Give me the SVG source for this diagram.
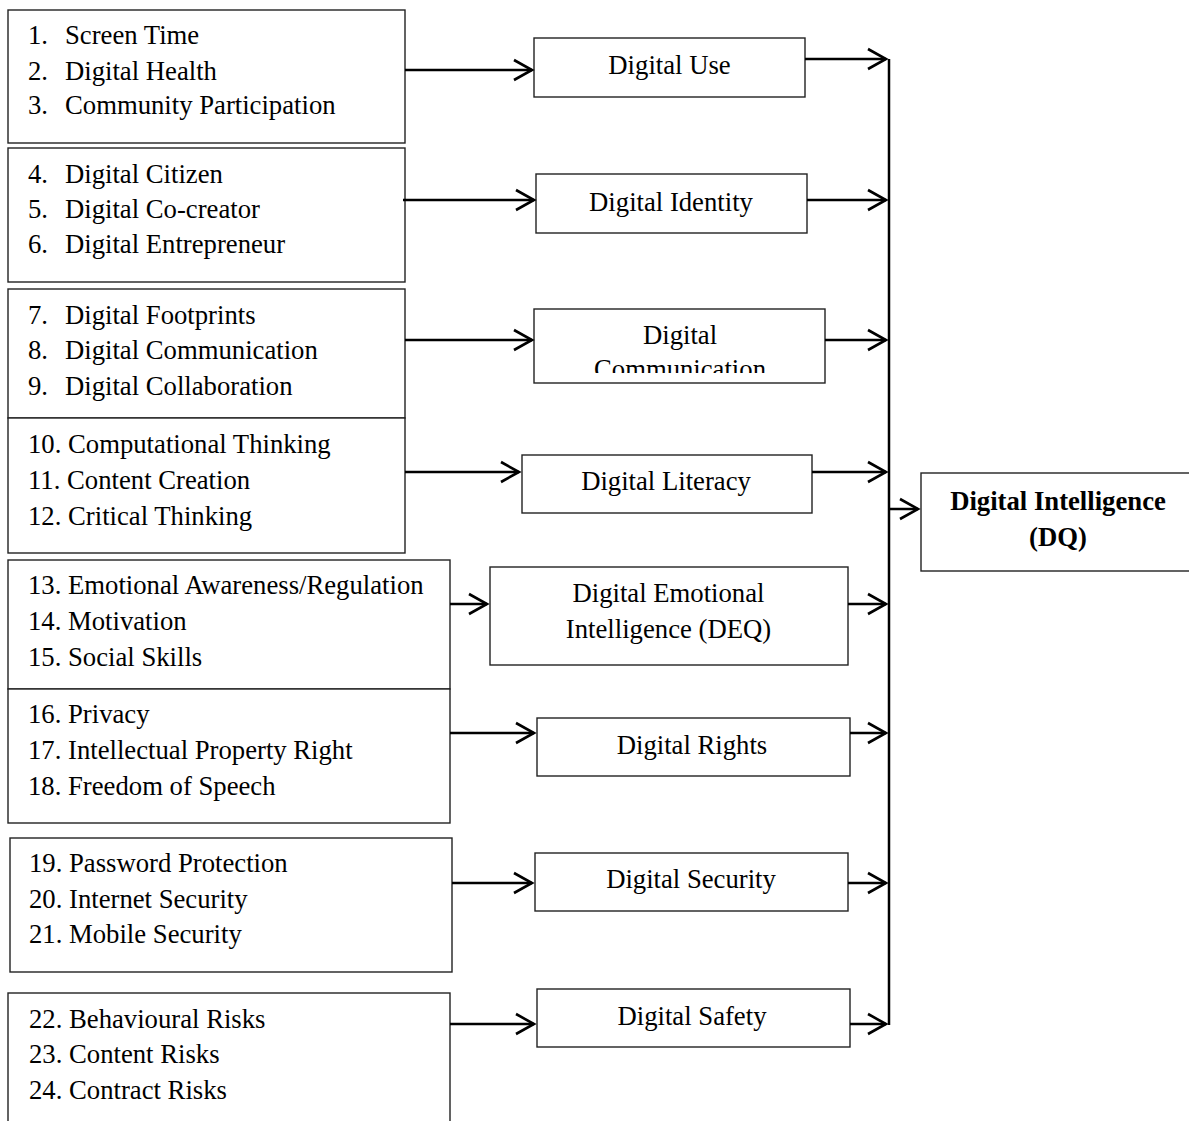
<svg xmlns="http://www.w3.org/2000/svg" width="1189" height="1121" viewBox="0 0 1189 1121">
<style>
  .box { fill: #ffffff; stroke: #222222; stroke-width: 1.4; }
  .t { font-family: "Liberation Serif", "Times New Roman", serif; font-size: 26.7px; fill: #000000; }
  .c { text-anchor: middle; }
  .b { font-weight: bold; }
  .conn { fill: none; stroke: #000000; stroke-width: 2.5; }
</style>
<defs>
  <marker id="arr" markerUnits="userSpaceOnUse" viewBox="-22 -14 26 28" markerWidth="26" markerHeight="28" refX="0" refY="0" orient="auto" overflow="visible">
    <path d="M-18,-10 L0,0 L-18,10" fill="none" stroke="#000000" stroke-width="2.6"/>
  </marker>
  <clipPath id="clipComm">
    <rect x="534" y="309" width="291" height="64"/>
  </clipPath>
</defs>
<rect width="1189" height="1121" fill="#ffffff"/>

<!-- Left item boxes -->
<g id="items-1-3">
  <rect class="box" x="8" y="10" width="397" height="133"/>
  <text class="t" x="28" y="44">1.</text><text class="t" x="65" y="44">Screen Time</text>
  <text class="t" x="28" y="80">2.</text><text class="t" x="65" y="80">Digital Health</text>
  <text class="t" x="28" y="114">3.</text><text class="t" x="65" y="114">Community Participation</text>
</g>
<g id="items-4-6">
  <rect class="box" x="8" y="148" width="397" height="134"/>
  <text class="t" x="28" y="183">4.</text><text class="t" x="65" y="183">Digital Citizen</text>
  <text class="t" x="28" y="218">5.</text><text class="t" x="65" y="218">Digital Co-creator</text>
  <text class="t" x="28" y="253">6.</text><text class="t" x="65" y="253">Digital Entrepreneur</text>
</g>
<g id="items-7-9">
  <rect class="box" x="8" y="289" width="397" height="129"/>
  <text class="t" x="28" y="324">7.</text><text class="t" x="65" y="324">Digital Footprints</text>
  <text class="t" x="28" y="359">8.</text><text class="t" x="65" y="359">Digital Communication</text>
  <text class="t" x="28" y="395">9.</text><text class="t" x="65" y="395">Digital Collaboration</text>
</g>
<g id="items-10-12">
  <rect class="box" x="8" y="418" width="397" height="135"/>
  <text class="t" x="28" y="453">10. Computational Thinking</text>
  <text class="t" x="28" y="489">11. Content Creation</text>
  <text class="t" x="28" y="525">12. Critical Thinking</text>
</g>
<g id="items-13-15">
  <rect class="box" x="8" y="560" width="442" height="129"/>
  <text class="t" x="28" y="594">13. Emotional Awareness/Regulation</text>
  <text class="t" x="28" y="630">14. Motivation</text>
  <text class="t" x="28" y="666">15. Social Skills</text>
</g>
<g id="items-16-18">
  <rect class="box" x="8" y="689" width="442" height="134"/>
  <text class="t" x="28" y="723">16. Privacy</text>
  <text class="t" x="28" y="759">17. Intellectual Property Right</text>
  <text class="t" x="28" y="795">18. Freedom of Speech</text>
</g>
<g id="items-19-21">
  <rect class="box" x="10" y="838" width="442" height="134"/>
  <text class="t" x="29" y="872">19. Password Protection</text>
  <text class="t" x="29" y="908">20. Internet Security</text>
  <text class="t" x="29" y="943">21. Mobile Security</text>
</g>
<g id="items-22-24">
  <rect class="box" x="8" y="993" width="442" height="140"/>
  <text class="t" x="29" y="1028">22. Behavioural Risks</text>
  <text class="t" x="29" y="1063">23. Content Risks</text>
  <text class="t" x="29" y="1099">24. Contract Risks</text>
</g>

<!-- Middle dimension boxes -->
<g id="digital-use">
  <rect class="box" x="534" y="38" width="271" height="59"/>
  <text class="t c" x="669.5" y="74">Digital Use</text>
</g>
<g id="digital-identity">
  <rect class="box" x="536" y="174" width="271" height="59"/>
  <text class="t c" x="671" y="211">Digital Identity</text>
</g>
<g id="digital-communication">
  <rect class="box" x="534" y="309" width="291" height="74"/>
  <text class="t c" x="680" y="344">Digital</text>
  <text class="t c" x="680" y="378" clip-path="url(#clipComm)">Communication</text>
</g>
<g id="digital-literacy">
  <rect class="box" x="522" y="455" width="290" height="58"/>
  <text class="t c" x="666" y="490">Digital Literacy</text>
</g>
<g id="digital-emotional-intelligence">
  <rect class="box" x="490" y="567" width="358" height="98"/>
  <text class="t c" x="668.5" y="602">Digital Emotional</text>
  <text class="t c" x="668.5" y="638">Intelligence (DEQ)</text>
</g>
<g id="digital-rights">
  <rect class="box" x="537" y="718" width="313" height="58"/>
  <text class="t c" x="692" y="754">Digital Rights</text>
</g>
<g id="digital-security">
  <rect class="box" x="535" y="853" width="313" height="58"/>
  <text class="t c" x="691" y="888">Digital Security</text>
</g>
<g id="digital-safety">
  <rect class="box" x="537" y="989" width="313" height="58"/>
  <text class="t c" x="692" y="1025">Digital Safety</text>
</g>

<!-- Result box -->
<g id="digital-intelligence">
  <rect class="box" x="921" y="473" width="280" height="98"/>
  <text class="t c b" x="1058" y="510">Digital Intelligence</text>
  <text class="t c b" x="1058" y="546">(DQ)</text>
</g>

<!-- Connectors -->
<g id="connectors" class="conn">
  <line x1="405" y1="70" x2="532" y2="70" marker-end="url(#arr)"/>
  <line x1="403" y1="200" x2="534" y2="200" marker-end="url(#arr)"/>
  <line x1="405" y1="340" x2="532" y2="340" marker-end="url(#arr)"/>
  <line x1="405" y1="472" x2="519" y2="472" marker-end="url(#arr)"/>
  <line x1="450" y1="604" x2="487" y2="604" marker-end="url(#arr)"/>
  <line x1="450" y1="733" x2="534" y2="733" marker-end="url(#arr)"/>
  <line x1="452" y1="883" x2="532" y2="883" marker-end="url(#arr)"/>
  <line x1="450" y1="1024" x2="534" y2="1024" marker-end="url(#arr)"/>

  <line x1="805" y1="59" x2="886" y2="59" marker-end="url(#arr)"/>
  <line x1="807" y1="200" x2="886" y2="200" marker-end="url(#arr)"/>
  <line x1="825" y1="340" x2="886" y2="340" marker-end="url(#arr)"/>
  <line x1="812" y1="472" x2="886" y2="472" marker-end="url(#arr)"/>
  <line x1="848" y1="604" x2="886" y2="604" marker-end="url(#arr)"/>
  <line x1="850" y1="733" x2="886" y2="733" marker-end="url(#arr)"/>
  <line x1="848" y1="883" x2="886" y2="883" marker-end="url(#arr)"/>
  <line x1="850" y1="1024" x2="886" y2="1024" marker-end="url(#arr)"/>

  <line x1="889" y1="59" x2="889" y2="1025"/>
  <line x1="889" y1="509" x2="918" y2="509" marker-end="url(#arr)"/>
</g>
</svg>
